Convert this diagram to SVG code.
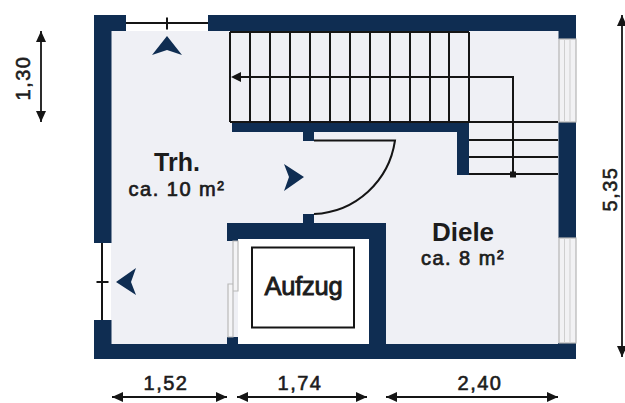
<svg xmlns="http://www.w3.org/2000/svg" width="625" height="403" viewBox="0 0 625 403">
<style>
.wall{fill:#0f2d52}
.ln{fill:none;stroke:#151515;stroke-width:2}
.dim{fill:none;stroke:#151515;stroke-width:1.8;marker-start:url(#ah);marker-end:url(#ah)}
.gl{fill:#f2f2f4;stroke:#b5b5b5;stroke-width:1.2}
.gi{stroke:#cfcfcf;stroke-width:1;fill:none}
.v{fill:#0f2d52}
text{font-family:"Liberation Sans",Arial,sans-serif;fill:#1c1c1c;text-anchor:middle}
.b{font-weight:bold}
.d{font-size:20px;letter-spacing:1.5px;stroke:#1c1c1c;stroke-width:.6}
.s{font-size:20px;letter-spacing:1.5px;stroke:#1c1c1c;stroke-width:.7}
</style>
<defs>
<marker id="ah" markerUnits="userSpaceOnUse" markerWidth="12" markerHeight="12" refX="11" refY="6" orient="auto-start-reverse"><path d="M0 1L11 6L0 11Z" fill="#151515"/></marker>
</defs>
<rect width="625" height="403" fill="#fff"/>
<g id="floor">
<rect x="111" y="31" width="448" height="314" fill="#eff0f5"/>
<rect x="238" y="238" width="132" height="107" fill="#fff"/>
</g>
<g id="stairs">
<path class="ln" d="M230 32H469M230 32V122M250 32V122M270 32V122M290 32V122M310 32V122M330 32V122M350 32V122M370 32V122M390 32V122M410 32V122M430 32V122M449 32V122M469 32V122M230 122H558M469 140H558M469 157H558M469 174H558"/>
<path class="ln" d="M238 77H513V174"/>
<path d="M231 77L241 72V82Z" fill="#151515"/>
<rect x="510" y="171.500" width="6" height="6" fill="#151515"/>
</g>
<g id="walls">
<path class="wall" d="M94 15H126V31H111.500V243H94Z"/>
<path class="wall" d="M208 15H576V39H558.500V31H208Z"/>
<path class="wall" d="M94 320H111.500V344H558V343H576V359H94Z"/>
<rect class="wall" x="558.500" y="122" width="17.500" height="116"/>
<path class="wall" d="M232 123H469V175H457V132H232Z"/>
<rect class="wall" x="303" y="131" width="11" height="10"/>
<rect class="wall" x="303" y="214" width="11" height="9"/>
<path class="wall" d="M227 223H386V345H369V239H238V241H227Z"/>
<rect class="wall" x="227" y="337" width="11" height="8"/>
</g>
<g id="openings">
<path class="ln" d="M126 23H208M167 17.500V29.500M102 243V320M96.500 282H108.500"/>
<g id="window-top"><rect class="gl" x="559" y="39" width="17" height="83"/><path class="gi" d="M564.500 39V122M570 39V122"/></g>
<g id="window-bottom"><rect class="gl" x="559" y="238" width="17" height="105"/><path class="gi" d="M564.500 238V343M570 238V343"/></g>
<path d="M233 241H238V291H233ZM228 284H233V337H228Z" fill="#f4f4f6" stroke="#b9b9b9" stroke-width="1.200"/>
</g>
<g id="door"><path class="ln" d="M314 140.500H395C389 181 356 212 314 214"/></g>
<g id="markers">
<path class="v" d="M167 36L182 55L167 50L152 55Z"/>
<path class="v" d="M304 177L284 164L289 177L284 191Z"/>
<path class="v" d="M116 282L136 268L131 282L136 295Z"/>
</g>
<g id="aufzug">
<rect x="252" y="247.500" width="102" height="80" fill="#fff" stroke="#151515" stroke-width="2"/>
<text x="303.500" y="295" font-size="25.500" stroke="#1c1c1c" stroke-width=".9" letter-spacing="-.2">Aufzug</text>
</g>
<g id="labels">
<text class="b" x="177" y="171" font-size="25">Trh.</text>
<text class="s" x="177" y="196">ca. 10 m²</text>
<text class="b" x="463" y="241" font-size="26">Diele</text>
<text class="s" x="463" y="265">ca. 8 m²</text>
</g>
<g id="dimensions">
<path class="dim" d="M112 397H227"/>
<path class="dim" d="M237 397H367"/>
<path class="dim" d="M386 397H558"/>
<path class="dim" d="M41 31V122"/>
<path class="dim" d="M622 15V357"/>
<text class="d" x="166" y="390">1,52</text>
<text class="d" x="300" y="390">1,74</text>
<text class="d" x="480" y="390">2,40</text>
<text class="d" transform="translate(30 78) rotate(-90)">1,30</text>
<text class="d" transform="translate(617 189) rotate(-90)">5,35</text>
</g>
</svg>
